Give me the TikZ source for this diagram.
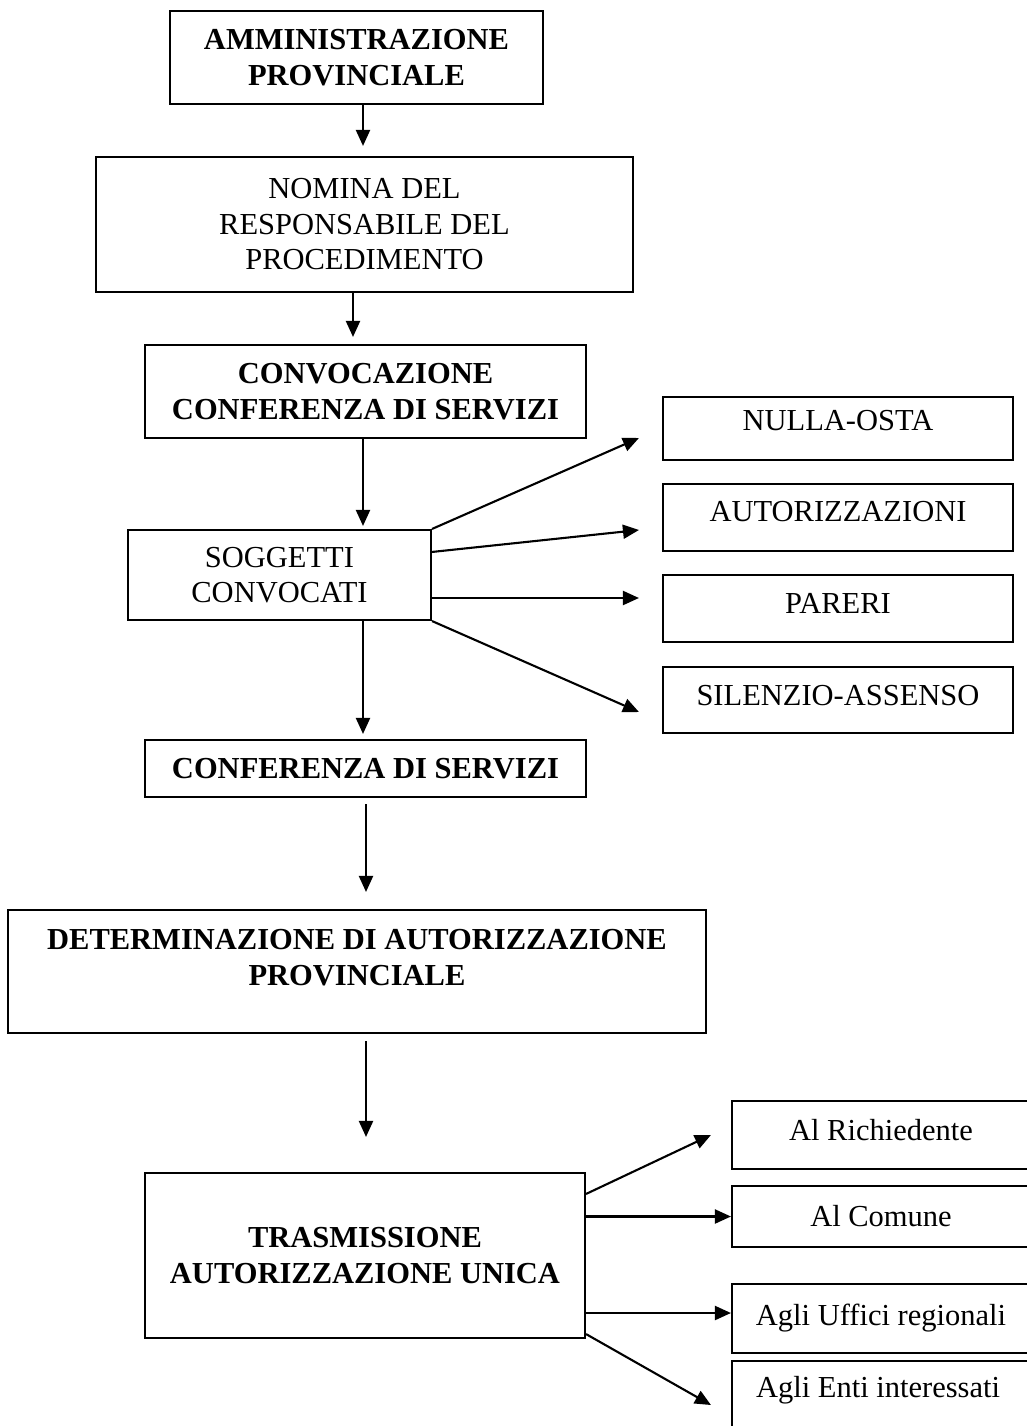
\documentclass[tikz,border=0pt]{standalone}
\usepackage{fontspec}
\setmainfont{Liberation Serif}
\usetikzlibrary{arrows.meta}
\tikzset{
  box/.style={draw, line width=2.1pt, inner sep=0pt, align=center,
    font=\fontsize{30.5}{35.5}\selectfont},
  bbox/.style={box, font=\fontsize{30.5}{35.5}\selectfont\bfseries},
  txt/.style={inner sep=0pt, align=center, font=\fontsize{30.5}{35.5}\selectfont},
  arr/.style={line width=2.1pt, -{Triangle[length=16pt,width=14pt]}}
}
\begin{document}
\begin{tikzpicture}[x=1pt,y=-1pt]
\useasboundingbox (0,0) rectangle (1027,1426);
\clip (0,0) rectangle (1027,1426);
% main column
\node[bbox, minimum width=373pt, minimum height=93pt] (b1) at (356.5,57.5) {AMMINISTRAZIONE\\PROVINCIALE};
\node[box, minimum width=537pt, minimum height=135pt] (b2) at (364.5,224.5) {NOMINA DEL\\RESPONSABILE DEL\\PROCEDIMENTO};
\node[bbox, minimum width=441pt, minimum height=93pt] (b3) at (365.5,391.5) {CONVOCAZIONE\\CONFERENZA DI SERVIZI};
\node[box, minimum width=303pt, minimum height=90pt] (b4) at (279.5,575) {SOGGETTI\\CONVOCATI};
\node[bbox, minimum width=441pt, minimum height=57pt] (b5) at (365.5,768.5) {CONFERENZA DI SERVIZI};
\node[bbox, minimum width=698pt, minimum height=123pt] (b6) at (357,971.5) {};
\node[txt, font=\fontsize{30.5}{35.5}\selectfont\bfseries] (b6t) at (357,957.5) {DETERMINAZIONE DI AUTORIZZAZIONE\\PROVINCIALE};
\node[bbox, minimum width=440pt, minimum height=165pt] (b7) at (365,1255.5) {TRASMISSIONE\\AUTORIZZAZIONE UNICA};
% right column (upper)
\node[box, minimum width=350pt, minimum height=63pt, text depth=16pt] (nulla) at (838,428.5) {NULLA-OSTA};
\node[box, minimum width=350pt, minimum height=67pt, text depth=13pt] (autor) at (838,517.5) {AUTORIZZAZIONI};
\node[box, minimum width=350pt, minimum height=67pt, text depth=10pt] (pareri) at (838,608.5) {PARERI};
\node[box, minimum width=350pt, minimum height=66pt, text depth=10pt] (silen) at (838,700) {SILENZIO-ASSENSO};
% right column (lower)
\node[box, minimum width=298pt, minimum height=68pt, text depth=10pt] (rich) at (881,1135) {Al Richiedente};
\node[box, minimum width=298pt, minimum height=61pt] (comune) at (881,1216.5) {Al Comune};
\node[box, minimum width=298pt, minimum height=69pt] (uffici) at (881,1318.5) {Agli Uffici regionali};
\node[box, minimum width=298pt, minimum height=79pt] (enti) at (881,1400.5) {};
\node[txt] (entit) at (878,1390) {Agli Enti interessati};
% vertical connectors
\draw[arr, shorten >=10pt] ([xshift=-1.5pt]b2.north |- b1.south) -- ([xshift=-1.5pt]b2.north);
\draw[arr, shorten >=7pt] ([xshift=-11.5pt]b2.south) -- ([xshift=-11.5pt]b2.south |- b3.north);
\draw[arr, shorten >=3pt] ([xshift=-2.5pt]b3.south) -- ([xshift=-2.5pt]b3.south |- b4.north);
\draw[arr, shorten >=5pt] ([xshift=-2.5pt]b5.north |- b4.south) -- ([xshift=-2.5pt]b5.north);
\draw[arr, shorten <=6pt, shorten >=17pt] ([xshift=0.5pt]b5.south) -- ([xshift=0.5pt]b5.south |- b6.north);
\draw[arr, shorten <=7pt, shorten >=35pt] ([xshift=9pt]b6.south) -- ([xshift=9pt]b6.south |- b7.north);
% fan from SOGGETTI CONVOCATI
\draw[arr] (b4.north east) -- ([xshift=-23pt,yshift=-9.5pt]nulla.west);
\draw[arr] ([yshift=-23pt]b4.north east) -- ([xshift=-23pt,yshift=-12.5pt]autor.west);
\draw[arr] ([yshift=10.5pt]pareri.west -| b4.east) -- ([xshift=-23pt,yshift=10.5pt]pareri.west);
\draw[arr] (b4.south east) -- ([xshift=-23pt,yshift=-12pt]silen.west);
% fan from TRASMISSIONE
\draw[arr] ([yshift=-22pt]b7.north east) -- ([xshift=-20pt]rich.west);
\draw[arr] (comune.west -| b7.east) -- (comune.west);
\draw[arr] ([yshift=5.5pt]uffici.west -| b7.east) -- ([yshift=5.5pt]uffici.west);
\draw[arr] ([yshift=5pt]b7.south east) -- ([xshift=-20pt,yshift=-4.5pt]enti.west);
\end{tikzpicture}
\end{document}
